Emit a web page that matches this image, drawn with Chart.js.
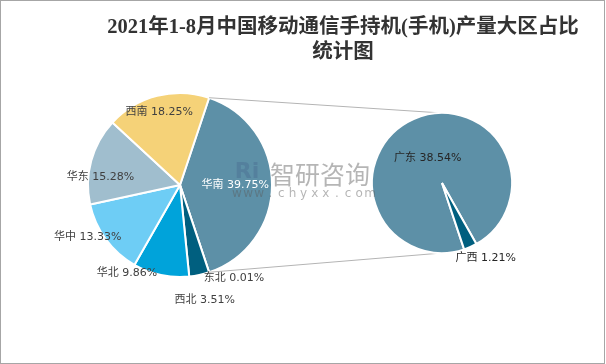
<!DOCTYPE html>
<html>
<head>
<meta charset="utf-8">
<script src="https://cdn.jsdelivr.net/npm/chart.js@4"></script>
<style>
body { margin: 0; background: #fff; }
#wrap { position: relative; width: 606px; height: 364px; overflow: hidden; }
#wrap canvas { position: absolute; left: 0; top: 0; }
#frame { position: absolute; left: 0; top: 0; width: 605px; height: 364px; box-sizing: border-box; border: 1px solid #a6a6a6; pointer-events: none; }
#title { position: absolute; top: 14px; left: 80px; width: 526px; text-align: center; font: bold 20.5px/25px "Liberation Serif", "Noto Sans CJK SC", serif; color: #333; }
</style>
</head>
<body>
<div id="wrap">
  <canvas id="leftPie" width="606" height="364"></canvas>
  <canvas id="rightPie" width="606" height="364"></canvas>
  <div id="title">2021年1-8月中国移动通信手持机(手机)产量大区占比<br>统计图</div>
  <div id="frame"></div>
</div>
<script>
// data
const leftCategories = ['华南', '东北', '西北', '华北', '华中', '华东', '西南'];
const leftValues = [39.75, 0.01, 3.51, 9.86, 13.33, 15.28, 18.25];
const rightCategories = ['广东', '广西'];
const rightValues = [38.54, 1.21];

// styles
const leftColors = ['#5d90a7', '#4472c4', '#005f7f', '#00a3da', '#6ecdf5', '#a0bece', '#f5d278'];
const rightColors = ['#5d90a7', '#005f7f'];
const leftLabelColors = ['#fff', '#404040', '#404040', '#404040', '#404040', '#404040', '#404040'];
const rightLabelColors = ['#262626', '#262626'];
// label placement: [radius factor, angle shift (deg) from slice middle]
const leftLabelPos = [[0.6, 0], [1.17, -11.6], [1.28, 0], [1.12, 19], [1.15, 7], [0.87, -9.5], [0.82, -1.5]];
const rightLabelPos = [[0.41, -6], [1.24, -6.4]];

const FONT = '11px "DejaVu Sans", "Noto Sans CJK SC", sans-serif';

const total = leftValues.reduce((a, b) => a + b, 0);
const splitSpan = leftValues[0] / total * 360;   // 华南 is split into the small pie
const leftRotation = 90 - splitSpan / 2;
const rightRotation = 90 + splitSpan / 2;

function sliceLabels(pos, colors) {
    return {
        id: 'sliceLabels',
        afterDatasetsDraw(chart) {
            const ctx = chart.ctx;
            const ds = chart.data.datasets[0];
            ctx.save();
            ctx.font = FONT;
            ctx.textAlign = 'center';
            ctx.textBaseline = 'middle';
            chart.getDatasetMeta(0).data.forEach((arc, i) => {
                const [f, da] = pos[i];
                const a = (arc.startAngle + arc.endAngle) / 2 + da * Math.PI / 180;
                const r = arc.outerRadius * f;
                ctx.fillStyle = colors[i];
                ctx.fillText(chart.data.labels[i] + ' ' + ds.data[i].toFixed(2) + '%',
                    arc.x + Math.cos(a) * r, arc.y + Math.sin(a) * r);
            });
            ctx.restore();
        }
    };
}

function pieOptions(rotation, padding) {
    return {
        responsive: false,
        animation: false,
        events: [],
        rotation: rotation,
        layout: { padding: padding },
        plugins: { legend: { display: false }, tooltip: { enabled: false } }
    };
}

const leftChart = new Chart(document.getElementById('leftPie'), {
    type: 'pie',
    data: {
        labels: leftCategories,
        datasets: [{
            data: leftValues,
            backgroundColor: leftColors,
            borderColor: '#fff',
            borderWidth: 2,
            hoverOffset: 0,
            hoverBorderWidth: 2
        }]
    },
    options: pieOptions(leftRotation, { left: 87, right: 333, top: 92, bottom: 86 }),
    plugins: [sliceLabels(leftLabelPos, leftLabelColors)]
});

// lines joining the split slice to the small pie
const connector = {
    id: 'connector',
    beforeDatasetsDraw(chart) {
        const big = leftChart.getDatasetMeta(0).data[0];
        const small = chart.getDatasetMeta(0).data[0];
        const R = big.outerRadius;
        const ctx = chart.ctx;
        ctx.save();
        ctx.strokeStyle = '#b4b4b4';
        ctx.lineWidth = 1;
        ctx.beginPath();
        ctx.moveTo(big.x + Math.cos(big.startAngle) * R, big.y + Math.sin(big.startAngle) * R);
        ctx.lineTo(small.x, small.y - small.outerRadius);
        ctx.moveTo(big.x + Math.cos(big.endAngle) * R, big.y + Math.sin(big.endAngle) * R);
        ctx.lineTo(small.x, small.y + small.outerRadius);
        ctx.stroke();
        ctx.restore();
    }
};

const watermark = {
    id: 'watermark',
    afterDraw(chart) {
        const ctx = chart.ctx;
        ctx.save();
        ctx.textAlign = 'center';
        ctx.textBaseline = 'middle';
        ctx.fillStyle = 'rgba(70,100,140,0.35)';
        ctx.font = 'bold 22px "DejaVu Sans", sans-serif';
        ctx.fillText('Ri', 247, 172);
        ctx.fillStyle = 'rgba(90,90,90,0.45)';
        ctx.font = '25px "Noto Sans CJK SC", sans-serif';
        ctx.fillText('智研咨询', 320, 174);
        ctx.font = '12px "DejaVu Sans", sans-serif';
        const url = 'www.chyxx.com';
        for (let i = 0; i < url.length; i++) {
            ctx.fillText(url[i], 237 + i * 11.1, 194);
        }
        ctx.restore();
    }
};

new Chart(document.getElementById('rightPie'), {
    type: 'pie',
    data: {
        labels: rightCategories,
        datasets: [{
            data: rightValues,
            backgroundColor: rightColors,
            borderColor: '#fff',
            borderWidth: 2,
            hoverOffset: 0,
            hoverBorderWidth: 2
        }]
    },
    options: pieOptions(rightRotation, { left: 371, right: 93, top: 112, bottom: 110 }),
    plugins: [connector, sliceLabels(rightLabelPos, rightLabelColors), watermark]
});
</script>
</body>
</html>
